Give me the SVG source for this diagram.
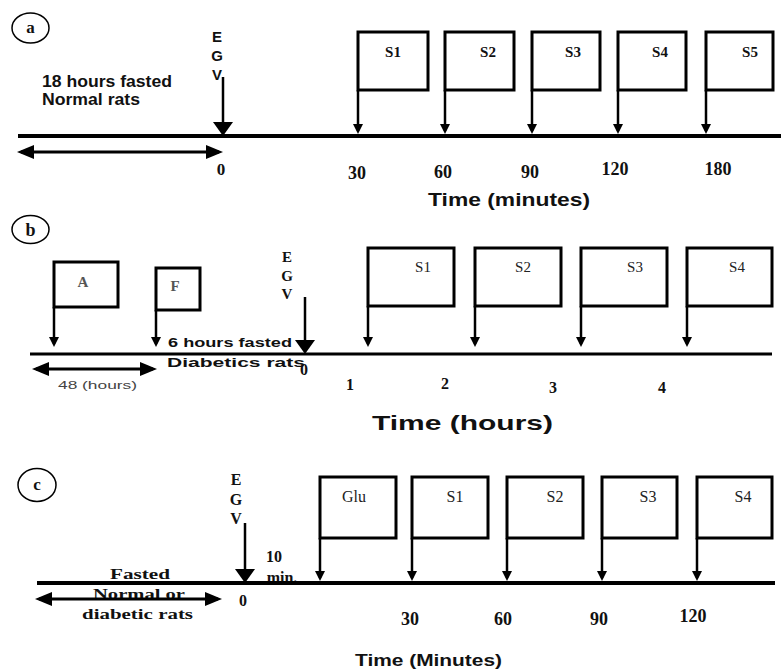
<svg xmlns="http://www.w3.org/2000/svg" width="781" height="672" viewBox="0 0 781 672">
<style>
.bg{fill:#fff}
.box{fill:none;stroke:#000;stroke-width:3}
.pole{stroke:#000;stroke-width:2.5;fill:none}
.tl{stroke:#000;stroke-width:4}
.tlb{stroke:#000;stroke-width:3}
.dbl{stroke:#000;stroke-width:3}
.circ{fill:none;stroke:#000;stroke-width:1.5}
.sb{font-family:"Liberation Sans",Arial,sans-serif;font-weight:bold;fill:#111}
.sr{font-family:"Liberation Serif","Times New Roman",serif;fill:#222}
.srb{font-family:"Liberation Serif","Times New Roman",serif;font-weight:bold;fill:#111}
.mid{text-anchor:middle}
</style>
<defs>
<marker id="sm" viewBox="0 0 10 10" refX="7" refY="5" markerWidth="10" markerHeight="10" markerUnits="userSpaceOnUse" orient="auto"><path d="M0,0L10,5L0,10z" fill="#000"/></marker>
<marker id="big" viewBox="0 0 14 20" refX="10" refY="10" markerWidth="14" markerHeight="20" markerUnits="userSpaceOnUse" orient="auto"><path d="M0,0L14,10L0,20z" fill="#000"/></marker>
<marker id="dh" viewBox="0 0 17 14" refX="13" refY="7" markerWidth="17" markerHeight="14" markerUnits="userSpaceOnUse" orient="auto-start-reverse"><path d="M0,0L17,7L0,14z" fill="#000"/></marker>
</defs>
<rect class="bg" x="0" y="0" width="781" height="672"/>

<!-- Panel a -->
<g id="panel-a-label"><ellipse class="circ" cx="30.5" cy="28" rx="18.5" ry="15"/><text class="srb mid" x="30.5" y="33" font-size="17">a</text></g>
<g id="a-egv"><text class="sb mid" x="217" y="42" font-size="15">E</text><text class="sb mid" x="217" y="61" font-size="15">G</text><text class="sb mid" x="217" y="80" font-size="15">V</text></g>
<g id="a-fasted"><text class="sb" x="42" y="87" font-size="16" textLength="130" lengthAdjust="spacingAndGlyphs">18 hours fasted</text><text class="sb" x="42" y="105" font-size="16" textLength="98" lengthAdjust="spacingAndGlyphs">Normal rats</text></g>
<g id="a-S1"><rect class="box" x="358" y="32" width="70" height="58"/><text class="srb mid" x="393" y="57" font-size="15">S1</text></g>
<g id="a-S2"><rect class="box" x="445" y="32" width="69" height="58"/><text class="srb mid" x="488" y="57" font-size="15">S2</text></g>
<g id="a-S3"><rect class="box" x="532" y="32" width="68" height="58"/><text class="srb mid" x="573" y="57" font-size="15">S3</text></g>
<g id="a-S4"><rect class="box" x="618" y="32" width="68" height="58"/><text class="srb mid" x="660" y="57" font-size="15">S4</text></g>
<g id="a-S5"><rect class="box" x="706" y="32" width="67" height="58"/><text class="srb mid" x="750" y="57" font-size="15">S5</text></g>
<g id="a-ticks">
<text class="srb mid" x="221" y="175" font-size="17">0</text>
<text class="srb mid" x="357" y="179" font-size="18">30</text>
<text class="srb mid" x="443" y="178" font-size="18">60</text>
<text class="srb mid" x="530" y="178" font-size="18">90</text>
<text class="srb mid" x="615" y="175" font-size="18">120</text>
<text class="srb mid" x="718" y="175" font-size="18">180</text>
<text class="sb" x="428" y="206" font-size="19" textLength="162" lengthAdjust="spacingAndGlyphs">Time (minutes)</text>
</g>

<!-- Panel b -->
<g id="panel-b-label"><ellipse class="circ" cx="30.5" cy="229.5" rx="18.5" ry="14"/><text class="srb mid" x="30.5" y="236" font-size="18">b</text></g>
<g id="b-A"><rect class="box" x="54" y="262" width="64" height="45"/><text class="srb mid" x="83" y="287" font-size="15" style="fill:#555">A</text></g>
<g id="b-F"><rect class="box" x="156" y="268" width="44" height="42"/><text class="srb mid" x="175" y="291" font-size="15" style="fill:#555">F</text></g>
<g id="b-egv"><text class="srb mid" x="287" y="262" font-size="15">E</text><text class="srb mid" x="287" y="281" font-size="15">G</text><text class="srb mid" x="287" y="299" font-size="15">V</text></g>
<g id="b-fasted"><text class="sb" x="168" y="347" font-size="13" textLength="124" lengthAdjust="spacingAndGlyphs">6 hours fasted</text><text class="sb" x="167" y="367" font-size="13" textLength="138" lengthAdjust="spacingAndGlyphs">Diabetics rats</text></g>
<g id="b-48"><text class="sb" x="58" y="389" font-size="11" textLength="79" lengthAdjust="spacingAndGlyphs" style="fill:#444;font-weight:normal">48 (hours)</text></g>
<g id="b-S1"><rect class="box" x="368" y="248" width="86" height="58"/><text class="sr mid" x="423" y="272" font-size="15">S1</text></g>
<g id="b-S2"><rect class="box" x="475" y="248" width="86" height="58"/><text class="sr mid" x="523" y="272" font-size="15">S2</text></g>
<g id="b-S3"><rect class="box" x="581" y="248" width="86" height="58"/><text class="sr mid" x="635" y="272" font-size="15">S3</text></g>
<g id="b-S4"><rect class="box" x="687" y="248" width="85" height="58"/><text class="sr mid" x="737" y="272" font-size="15">S4</text></g>
<g id="b-ticks">
<text class="srb mid" x="304" y="375" font-size="16">0</text>
<text class="srb mid" x="350" y="390" font-size="16">1</text>
<text class="srb mid" x="445" y="389" font-size="16">2</text>
<text class="srb mid" x="553" y="393" font-size="16">3</text>
<text class="srb mid" x="662" y="393" font-size="16">4</text>
<text class="sb" x="372" y="430" font-size="21" textLength="181" lengthAdjust="spacingAndGlyphs">Time (hours)</text>
</g>

<!-- Panel c -->
<g id="panel-c-label"><ellipse class="circ" cx="37" cy="485" rx="19" ry="16.5"/><text class="srb mid" x="37" y="490" font-size="17">c</text></g>
<g id="c-egv"><text class="srb mid" x="236" y="485" font-size="16">E</text><text class="srb mid" x="236" y="505" font-size="16">G</text><text class="srb mid" x="236" y="524" font-size="16">V</text></g>
<g id="c-10min"><text class="srb mid" x="274" y="562" font-size="16">10</text><text class="srb mid" x="282" y="583" font-size="16">min.</text></g>
<g id="c-fasted">
<text class="srb" x="110" y="579" font-size="15" textLength="60" lengthAdjust="spacingAndGlyphs">Fasted</text>
<text class="srb" x="93" y="599" font-size="15" textLength="92" lengthAdjust="spacingAndGlyphs">Normal or</text>
<text class="srb" x="82" y="619" font-size="15" textLength="111" lengthAdjust="spacingAndGlyphs">diabetic rats</text>
</g>
<g id="c-Glu"><rect class="box" x="320" y="477" width="76" height="61"/><text class="sr mid" x="354" y="502" font-size="16">Glu</text></g>
<g id="c-S1"><rect class="box" x="412" y="477" width="76" height="61"/><text class="sr mid" x="455" y="502" font-size="16">S1</text></g>
<g id="c-S2"><rect class="box" x="507" y="477" width="76" height="61"/><text class="sr mid" x="555" y="502" font-size="16">S2</text></g>
<g id="c-S3"><rect class="box" x="602" y="477" width="75" height="61"/><text class="sr mid" x="648" y="502" font-size="16">S3</text></g>
<g id="c-S4"><rect class="box" x="697" y="477" width="75" height="61"/><text class="sr mid" x="743" y="502" font-size="16">S4</text></g>
<g id="c-ticks">
<text class="srb mid" x="243" y="606" font-size="16">0</text>
<text class="srb mid" x="410" y="625" font-size="18">30</text>
<text class="srb mid" x="503" y="625" font-size="18">60</text>
<text class="srb mid" x="599" y="625" font-size="18">90</text>
<text class="srb mid" x="693" y="622" font-size="18">120</text>
<text class="sb" x="355" y="666" font-size="16" textLength="147" lengthAdjust="spacingAndGlyphs">Time (Minutes)</text>
</g>

<g id="connectors">
<!-- a -->
<line class="tl" x1="18" y1="136" x2="781" y2="136"/>
<line class="pole" x1="223" y1="77" x2="223" y2="132" marker-end="url(#big)"/>
<line class="dbl" x1="21" y1="152" x2="219" y2="152" marker-start="url(#dh)" marker-end="url(#dh)"/>
<line class="pole" x1="358" y1="90" x2="358" y2="131" marker-end="url(#sm)"/>
<line class="pole" x1="445" y1="90" x2="445" y2="131" marker-end="url(#sm)"/>
<line class="pole" x1="532" y1="90" x2="532" y2="131" marker-end="url(#sm)"/>
<line class="pole" x1="618" y1="90" x2="618" y2="131" marker-end="url(#sm)"/>
<line class="pole" x1="706" y1="90" x2="706" y2="131" marker-end="url(#sm)"/>
<!-- b -->
<line class="tlb" x1="30" y1="354" x2="772" y2="354"/>
<line class="pole" x1="305" y1="297" x2="305" y2="350" marker-end="url(#big)"/>
<line class="dbl" x1="36" y1="369" x2="153" y2="369" stroke-width="2.5" marker-start="url(#dh)" marker-end="url(#dh)"/>
<line class="pole" x1="54" y1="307" x2="54" y2="344" marker-end="url(#sm)"/>
<line class="pole" x1="156" y1="310" x2="156" y2="344" marker-end="url(#sm)"/>
<line class="pole" x1="368" y1="306" x2="368" y2="344" marker-end="url(#sm)"/>
<line class="pole" x1="475" y1="306" x2="475" y2="344" marker-end="url(#sm)"/>
<line class="pole" x1="581" y1="306" x2="581" y2="344" marker-end="url(#sm)"/>
<line class="pole" x1="687" y1="306" x2="687" y2="344" marker-end="url(#sm)"/>
<!-- c -->
<line class="tl" x1="37" y1="583" x2="775" y2="583"/>
<line class="pole" x1="245" y1="523" x2="245" y2="579" marker-end="url(#big)"/>
<line class="dbl" x1="39" y1="599" x2="218" y2="599" marker-start="url(#dh)" marker-end="url(#dh)"/>
<line class="pole" x1="320" y1="538" x2="320" y2="578" marker-end="url(#sm)"/>
<line class="pole" x1="412" y1="538" x2="412" y2="578" marker-end="url(#sm)"/>
<line class="pole" x1="507" y1="538" x2="507" y2="578" marker-end="url(#sm)"/>
<line class="pole" x1="602" y1="538" x2="602" y2="578" marker-end="url(#sm)"/>
<line class="pole" x1="697" y1="538" x2="697" y2="578" marker-end="url(#sm)"/>
</g>
</svg>
